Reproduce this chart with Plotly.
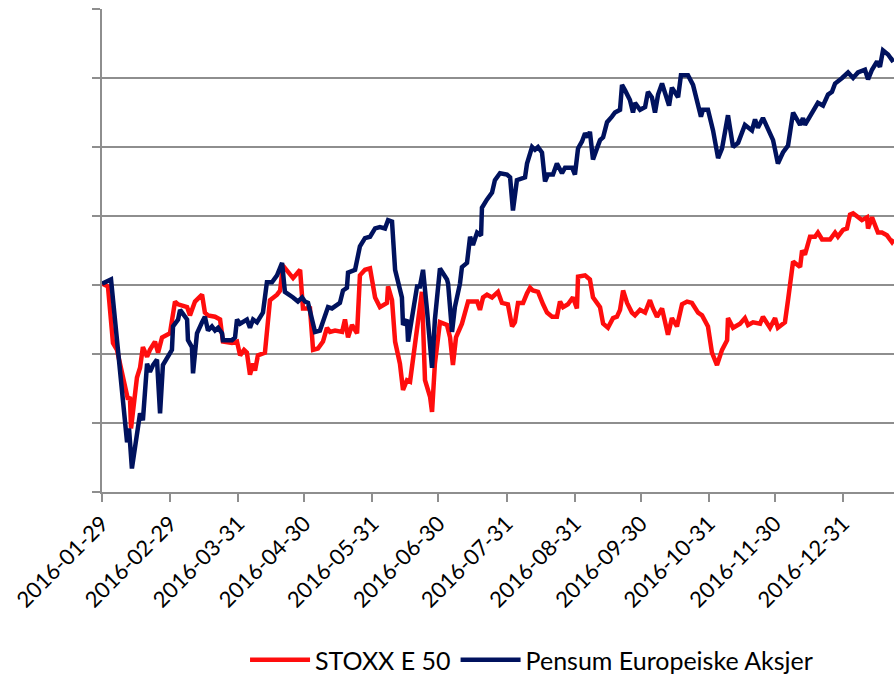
import pandas as pd
import plotly.graph_objects as go

START = "2016-01-29"

# days since 2016-01-29 and index values (start = 100)
stoxx_days = [0.0, 2.7, 5.0, 6.8, 11.8, 12.7, 13.2, 15.9, 17.3, 18.6, 20.5, 21.8, 24.1, 25.5, 27.3,
              29.6, 30.9, 33.2, 34.6, 38.7, 40.0, 42.3, 45.5, 46.8, 48.2, 51.4, 53.7, 55.0, 59.1,
              61.4, 62.8, 64.6, 65.9, 67.3, 68.7, 69.6, 70.9, 74.1, 76.4, 79.6, 81.0, 82.3, 84.6,
              86.9, 90.1, 91.4, 94.6, 96.0, 98.2, 100.5, 102.3, 103.7, 106.0, 109.2, 110.5, 111.9,
              113.7, 116.0, 117.3, 119.6, 121.9, 124.2, 126.4, 129.6, 130.1, 131.9, 133.3, 135.5,
              136.9, 138.7, 140.1, 143.3, 145.5, 146.9, 149.2, 150.1, 151.4, 153.7, 156.9, 158.3,
              159.6, 161.0, 163.7, 165.1, 166.5, 170.6, 171.9, 173.3, 175.1, 177.4, 180.1, 181.9,
              184.6, 186.5, 187.8, 189.2, 191.5, 193.3, 194.7, 196.0, 198.3, 200.6, 202.4, 204.7,
              206.9, 208.3, 209.7, 211.9, 214.2, 216.0, 216.5, 219.7, 221.9, 223.3, 226.5, 227.9,
              230.1, 232.4, 234.2, 235.6, 237.0, 238.8, 241.0, 242.4, 244.7, 247.0, 249.2, 250.6,
              252.4, 254.7, 256.1, 257.4, 259.2, 261.5, 263.8, 266.1, 268.3, 271.1, 272.9, 275.6,
              277.4, 279.7, 282.0, 284.3, 284.7, 287.0, 290.2, 292.4, 293.8, 296.1, 299.3, 300.6,
              303.8, 306.1, 307.4, 310.6, 312.0, 314.3, 317.5, 318.4, 319.7, 322.0, 324.3, 325.6,
              327.5, 331.1, 333.4, 334.7, 337.0, 338.8, 340.2, 341.6, 345.6, 347.9, 348.4, 350.2,
              352.9, 354.7, 357.0, 359.3, 360.2]
stoxx_vals = [100.1, 99.9, 95.8, 95.3, 91.7, 91.9, 89.6, 93.3, 94.0, 95.5, 94.8, 95.3, 95.9, 95.1, 96.2,
              96.4, 96.5, 98.8, 98.6, 98.4, 97.8, 98.8, 99.3, 98.0, 97.8, 97.7, 97.5, 95.9, 95.8,
              95.9, 94.9, 95.3, 95.1, 93.5, 94.3, 93.8, 94.9, 95.1, 98.9, 99.3, 99.6, 101.4, 100.9,
              100.5, 101.1, 98.3, 98.3, 95.3, 95.4, 95.9, 96.9, 96.6, 96.7, 96.6, 97.5, 96.2,
              97.1, 96.5, 100.7, 101.1, 101.2, 99.1, 98.4, 98.7, 99.9, 98.9, 95.9, 94.3,
              92.4, 93.1, 93.0, 96.6, 99.5, 93.1, 91.9, 90.8, 94.3, 97.3, 97.1, 96.2,
              94.2, 96.2, 97.2, 98.0, 98.8, 98.8, 98.2, 99.1, 99.3, 99.1, 99.5, 98.7,
              98.6, 97.0, 97.3, 98.7, 98.7, 99.4, 99.8, 99.6, 99.5, 98.6, 98.0, 97.7,
              97.7, 98.8, 98.4, 98.6, 99.1, 98.3, 100.6, 100.7, 100.4, 99.1, 98.4, 97.2,
              96.9, 97.6, 97.7, 98.2, 99.6, 98.7, 98.0, 97.8, 98.2, 98.0, 98.9, 98.3,
              97.7, 98.3, 97.3, 96.4, 97.6, 97.0, 98.6, 98.8, 98.7, 98.0, 97.8, 97.0,
              95.1, 94.2, 95.3, 96.0, 97.6, 96.9, 97.2, 97.6, 97.1, 97.3, 97.2, 97.7,
              96.9, 97.6, 96.9, 97.3, 98.9, 101.7, 101.3, 102.5, 102.2, 103.5, 103.5, 103.8,
              103.3, 103.3, 103.8, 103.5, 104.0, 104.1, 105.1, 105.2, 104.7, 104.9, 104.1, 104.9,
              103.8, 103.8, 103.6, 103.1, 103.3]

pensum_days = [0.0, 4.1, 11.4, 12.3, 13.6, 15.9, 17.3, 18.6, 20.5, 21.8, 23.2, 25.0, 26.4, 27.7, 30.0,
               31.8, 32.3, 34.6, 35.5, 38.7, 39.1, 40.9, 41.4, 43.2, 45.5, 46.8, 48.2, 50.0, 51.4,
               52.8, 54.6, 55.0, 59.1, 60.5, 61.4, 62.8, 65.9, 67.3, 68.7, 70.5, 73.2, 75.0, 77.3,
               79.6, 81.9, 83.2, 86.9, 89.1, 91.0, 92.3, 93.7, 96.9, 99.1, 101.4, 102.8, 104.6,
               108.2, 109.6, 111.4, 111.9, 115.1, 117.3, 119.6, 121.9, 124.2, 126.4, 128.7, 130.1,
               131.9, 133.3, 134.6, 136.4, 136.9, 138.7, 139.2, 141.0, 143.3, 144.6, 146.0, 147.8,
               150.1, 151.4, 153.7, 156.9, 157.4, 159.2, 160.5, 162.8, 163.7, 166.0, 167.4, 168.7,
               170.6, 172.4, 172.8, 175.1, 177.4, 178.7, 181.0, 184.2, 185.6, 186.9, 188.7, 192.4,
               193.3, 195.6, 196.9, 198.3, 200.1, 201.5, 202.8, 205.1, 206.9, 209.2, 210.6, 213.8,
               215.1, 216.5, 218.3, 219.7, 221.0, 221.9, 223.3, 225.1, 226.5, 227.9, 229.7, 231.9,
               233.3, 235.6, 236.5, 237.9, 240.1, 241.5, 242.4, 244.7, 247.0, 248.3, 250.1, 251.5,
               252.9, 254.7, 256.1, 257.9, 259.2, 260.6, 262.0, 263.3, 266.5, 268.8, 271.1, 272.4,
               273.3, 275.6, 277.9, 280.2, 282.0, 283.3, 284.7, 287.0, 289.3, 292.4, 295.6, 297.0,
               298.3, 300.6, 303.8, 305.2, 307.4, 309.7, 312.0, 314.3, 317.5, 318.8, 319.7, 322.0,
               325.6, 327.9, 330.2, 332.0, 333.4, 336.6, 339.3, 341.6, 343.8, 347.0, 348.4, 350.2,
               352.5, 353.8, 355.2, 357.5, 359.3, 360.2]
pensum_vals = [100.1, 100.4, 88.6, 89.6, 86.7, 89.0, 90.7, 90.2, 94.3, 93.7, 94.2, 94.6, 90.7, 94.2, 94.8,
               95.3, 97.0, 97.5, 98.2, 97.5, 96.0, 95.5, 93.6, 96.5, 97.3, 97.7, 96.7, 97.0, 96.7,
               96.9, 96.5, 96.0, 96.0, 96.2, 97.5, 97.2, 97.5, 96.9, 97.5, 97.3, 98.0, 100.2, 100.2,
               100.7, 101.6, 99.5, 99.1, 98.8, 99.1, 98.8, 98.7, 96.6, 96.7, 97.8, 98.4, 98.3,
               98.7, 99.6, 99.8, 100.9, 101.1, 102.8, 103.4, 103.5, 104.1, 104.2, 104.1, 104.7,
               104.6, 101.1, 100.1, 99.1, 97.1, 97.5, 95.9, 97.5, 99.9, 99.9, 101.1, 98.2,
               94.0, 97.5, 101.2, 100.4, 100.1, 96.6, 98.4, 100.1, 101.3, 101.6, 103.5, 102.9,
               103.8, 103.6, 105.6, 106.2, 106.7, 107.6, 108.1, 108.0, 107.8, 105.4, 107.6, 107.8,
               108.8, 110.0, 109.8, 110.0, 109.6, 107.5, 108.0, 108.0, 108.8, 108.1, 108.5, 108.5,
               108.0, 109.9, 110.4, 111.0, 110.7, 111.1, 109.1, 109.9, 110.5, 110.7, 111.8, 112.2,
               112.5, 112.7, 114.5, 114.1, 113.4, 112.5, 113.2, 112.7, 112.9, 114.0, 113.6, 112.5,
               113.8, 114.6, 113.9, 113.0, 114.3, 113.9, 113.6, 115.2, 115.2, 114.5, 112.8, 112.2,
               112.7, 112.7, 111.2, 109.2, 109.9, 111.0, 112.3, 110.0, 110.3, 111.6, 111.2, 112.0,
               111.4, 112.1, 110.9, 110.5, 108.8, 109.6, 110.1, 112.5, 111.6, 112.1, 111.6, 112.2,
               113.2, 113.0, 113.8, 114.0, 114.6, 115.0, 115.4, 115.0, 115.4, 115.6, 114.9, 115.6,
               116.2, 115.8, 117.0, 116.7, 116.3, 116.4]

tick_labels = ["2016-01-29", "2016-02-29", "2016-03-31", "2016-04-30", "2016-05-31", "2016-06-30",
               "2016-07-31", "2016-08-31", "2016-09-30", "2016-10-31", "2016-11-30", "2016-12-31"]

y_ticks = [85, 90, 95, 100, 105, 110, 115, 120]

start = pd.Timestamp(START)
stoxx_x = start + pd.to_timedelta(stoxx_days, unit="D")
pensum_x = start + pd.to_timedelta(pensum_days, unit="D")
x_end = start + pd.to_timedelta(max(pensum_days), unit="D")

RED = "#ff0d0d"
NAVY = "#00125e"
GRID = "#8e8e8e"
FONT = "Lato"

fig = go.Figure()
fig.add_trace(go.Scatter(x=stoxx_x, y=stoxx_vals, mode="lines", name="STOXX E 50",
                         line=dict(color=RED, width=4.5)))
fig.add_trace(go.Scatter(x=pensum_x, y=pensum_vals, mode="lines", name="Pensum Europeiske Aksjer",
                         line=dict(color=NAVY, width=4.5)))

fig.update_layout(
    width=894, height=674,
    margin=dict(l=102, r=0, t=9, b=182, autoexpand=False),
    plot_bgcolor="white", paper_bgcolor="white",
    font=dict(family=FONT, size=22, color="black"),
    showlegend=True,
    legend=dict(orientation="h", x=0.1806, xanchor="left", y=-0.348, yanchor="middle",
                font=dict(size=25), bgcolor="rgba(0,0,0,0)", itemwidth=60),
    xaxis=dict(type="date", range=[start, x_end],
               tickvals=list(pd.to_datetime(tick_labels)), ticktext=tick_labels,
               tickangle=-45, tickfont=dict(size=22),
               showgrid=False, showline=True, linecolor=GRID, linewidth=2,
               ticks="outside", ticklen=8, tickcolor=GRID, tickwidth=2, zeroline=False),
    yaxis=dict(range=[85, 120], tickvals=y_ticks, showticklabels=False,
               showgrid=True, gridcolor=GRID, gridwidth=2,
               showline=True, linecolor=GRID, linewidth=2,
               ticks="outside", ticklen=8, tickcolor=GRID, tickwidth=2, zeroline=False),
)

fig.write_html("out.html", config={"displayModeBar": False},
               post_script="document.body.style.margin='0';document.body.style.overflow='hidden';")
